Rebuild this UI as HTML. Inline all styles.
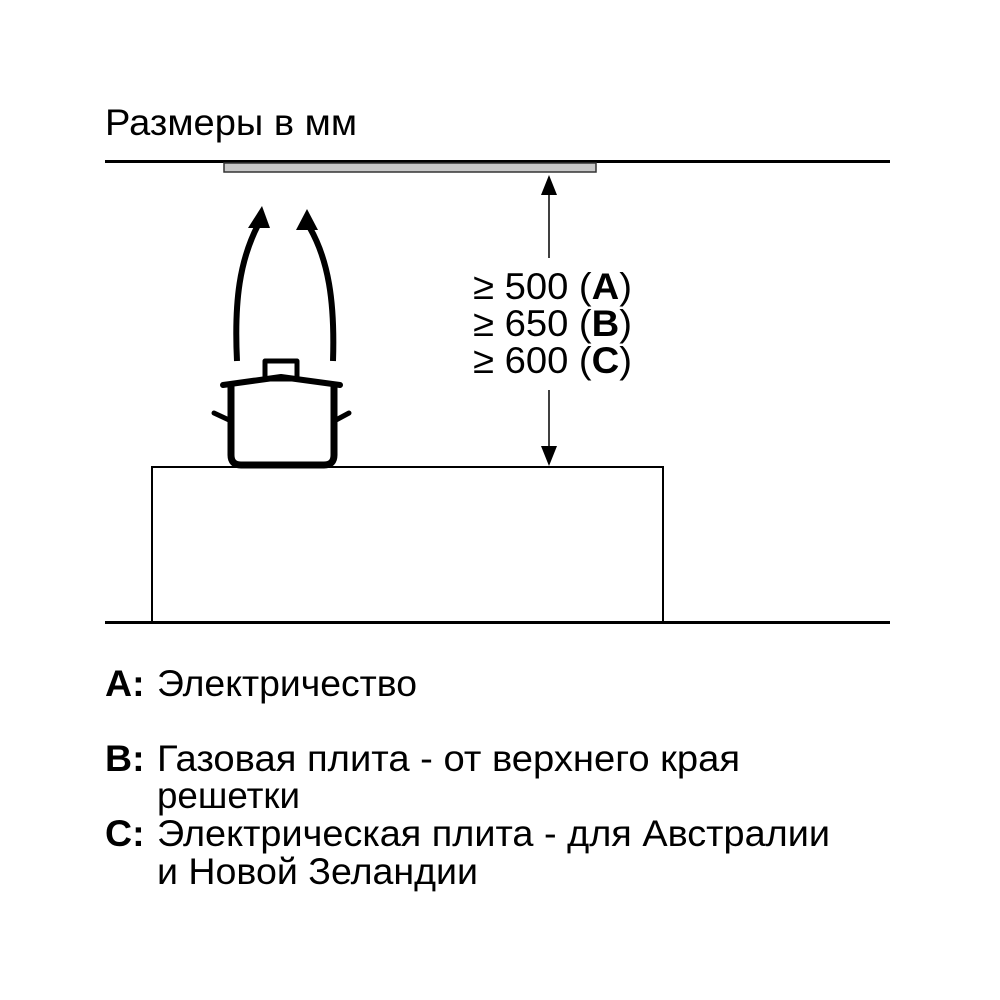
<!DOCTYPE html>
<html><head><meta charset="utf-8"><style>
html,body{margin:0;padding:0;background:#fff}
svg{display:block}
text{font-family:"Liberation Sans",sans-serif;fill:#000}
</style></head><body>
<svg width="1000" height="1000" viewBox="0 0 1000 1000" xmlns="http://www.w3.org/2000/svg">
<text x="105" y="135" font-size="37" textLength="252" lengthAdjust="spacingAndGlyphs">Размеры в мм</text>
<line x1="105" y1="161.5" x2="890" y2="161.5" stroke="#000" stroke-width="3"/>
<rect x="224" y="163" width="372" height="9" fill="#c8c8c8" stroke="#333" stroke-width="1.5"/>
<!-- dimension -->
<line x1="549" y1="190" x2="549" y2="258" stroke="#000" stroke-width="1.5"/>
<line x1="549" y1="390" x2="549" y2="450" stroke="#000" stroke-width="1.5"/>
<polygon points="549,175 541,195 557,195" fill="#000"/>
<polygon points="549,466 541,446 557,446" fill="#000"/>
<g font-size="37.5">
<text x="473" y="299" textLength="159" lengthAdjust="spacingAndGlyphs">≥ 500 (<tspan font-weight="bold">A</tspan>)</text>
<text x="473" y="336" textLength="159" lengthAdjust="spacingAndGlyphs">≥ 650 (<tspan font-weight="bold">B</tspan>)</text>
<text x="473" y="373" textLength="159" lengthAdjust="spacingAndGlyphs">≥ 600 (<tspan font-weight="bold">C</tspan>)</text>
</g>
<!-- arrows -->
<path d="M237,361 C234,300 240,260 258,225" fill="none" stroke="#000" stroke-width="6"/>
<polygon points="262,206 248,228 270,228" fill="#000"/>
<path d="M333,361 C335,300 328,260 310,228" fill="none" stroke="#000" stroke-width="6"/>
<polygon points="307,209 296,230 318,230" fill="#000"/>
<!-- pot -->
<rect x="265" y="361" width="32" height="18" fill="none" stroke="#000" stroke-width="5" stroke-linejoin="round"/>
<path d="M223,385 L281,377 L340,385" fill="none" stroke="#000" stroke-width="6" stroke-linecap="round" stroke-linejoin="round"/>
<path d="M231,386 L231,455 Q231,465 241,465 L324,465 Q334,465 334,455 L334,386" fill="none" stroke="#000" stroke-width="7"/>
<line x1="214" y1="413" x2="229" y2="420" stroke="#000" stroke-width="5" stroke-linecap="round"/>
<line x1="336" y1="420" x2="349" y2="413" stroke="#000" stroke-width="5" stroke-linecap="round"/>
<!-- counter -->
<rect x="152" y="467" width="511" height="155" fill="none" stroke="#000" stroke-width="2"/>
<line x1="105" y1="622.5" x2="890" y2="622.5" stroke="#000" stroke-width="3"/>
<!-- legend -->
<g font-size="37.5">
<text x="105" y="696" font-weight="bold">A:</text>
<text x="157" y="696" textLength="260" lengthAdjust="spacingAndGlyphs">Электричество</text>
<text x="105" y="771" font-weight="bold">B:</text>
<text x="157" y="771" textLength="583" lengthAdjust="spacingAndGlyphs">Газовая плита - от верхнего края</text>
<text x="157" y="808" textLength="143" lengthAdjust="spacingAndGlyphs">решетки</text>
<text x="105" y="846" font-weight="bold">C:</text>
<text x="157" y="846" textLength="673" lengthAdjust="spacingAndGlyphs">Электрическая плита - для Австралии</text>
<text x="157" y="884" textLength="321" lengthAdjust="spacingAndGlyphs">и Новой Зеландии</text>
</g>
</svg>
</body></html>
